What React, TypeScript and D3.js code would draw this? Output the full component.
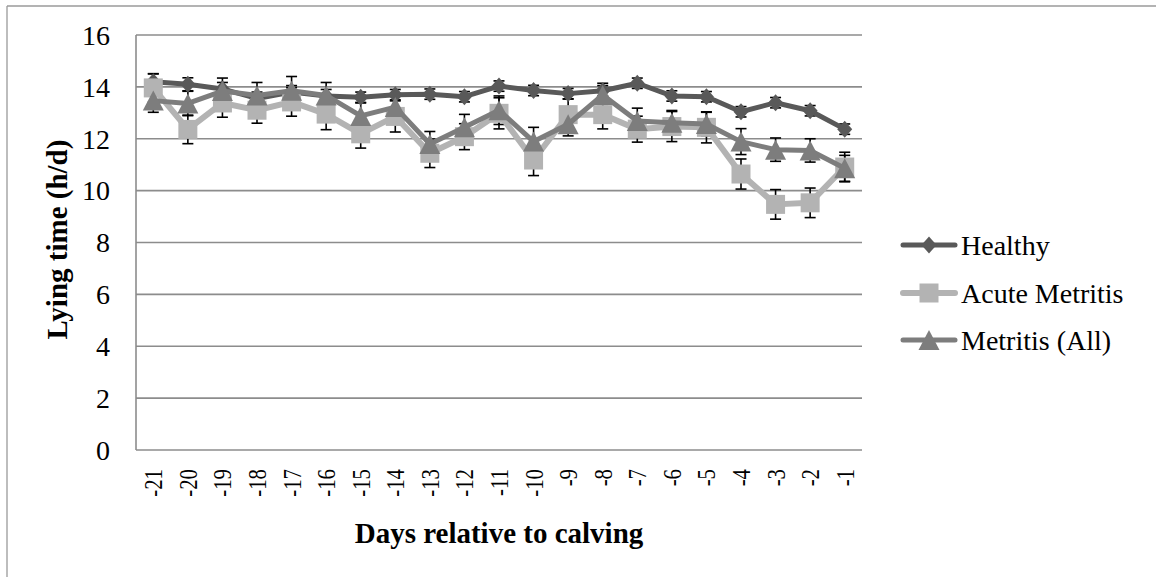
import React from "react";
import * as d3 from "d3";

const days = ["-21","-20","-19","-18","-17","-16","-15","-14","-13","-12","-11","-10","-9","-8","-7","-6","-5","-4","-3","-2","-1"];
const healthy = [14.2, 14.1, 13.92, 13.55, 13.8, 13.65, 13.6, 13.7, 13.72, 13.62, 14.03, 13.86, 13.74, 13.85, 14.14, 13.65, 13.62, 13.04, 13.39, 13.08, 12.37];
const acute = [13.96, 12.36, 13.38, 13.1, 13.42, 12.95, 12.19, 12.86, 11.44, 12.08, 12.98, 11.18, 12.93, 12.93, 12.37, 12.47, 12.44, 10.64, 9.47, 9.53, 10.91];
const metritis = [13.47, 13.36, 13.84, 13.67, 13.85, 13.67, 12.88, 13.22, 11.8, 12.44, 13.1, 11.89, 12.56, 13.69, 12.68, 12.62, 12.57, 11.89, 11.58, 11.55, 10.86];
const healthySE = [0.3, 0.25, 0.25, 0.25, 0.25, 0.25, 0.2, 0.2, 0.2, 0.2, 0.2, 0.2, 0.2, 0.2, 0.2, 0.2, 0.2, 0.2, 0.2, 0.2, 0.2];
const acuteSE = [0.55, 0.55, 0.55, 0.5, 0.55, 0.6, 0.55, 0.6, 0.55, 0.5, 0.6, 0.6, 0.6, 0.55, 0.5, 0.58, 0.6, 0.58, 0.57, 0.57, 0.57];
const metritisSE = [0.45, 0.47, 0.5, 0.5, 0.55, 0.5, 0.5, 0.5, 0.48, 0.5, 0.55, 0.55, 0.45, 0.45, 0.5, 0.47, 0.45, 0.5, 0.45, 0.45, 0.5];
const yTicks = [0, 2, 4, 6, 8, 10, 12, 14, 16];
const seriesNames = ["Healthy", "Acute Metritis", "Metritis (All)"];

const W = 1156, H = 577;
const plot = { left: 136, right: 862, top: 35, bottom: 450 };
const FONT = "Liberation Serif, Times New Roman, serif";
const GRID = "#8c8c8c";
const textStyle = { fontFamily: FONT };

const series = [
  { name: seriesNames[0], values: healthy, se: healthySE, color: "#595959", marker: "diamond", width: 5 },
  { name: seriesNames[1], values: acute, se: acuteSE, color: "#b3b3b3", marker: "square", width: 6 },
  { name: seriesNames[2], values: metritis, se: metritisSE, color: "#7d7d7d", marker: "triangle", width: 5 },
];

function markerPath(kind: string): string {
  if (kind === "diamond") return "M0,-8.5L7.5,0L0,8.5L-7.5,0Z";
  if (kind === "square") return "M-9.5,-9.5H9.5V9.5H-9.5Z";
  return "M0,-10L10.5,10L-10.5,10Z";
}

export default function App() {
  const x = d3.scalePoint<string>().domain(days).range([plot.left, plot.right]).padding(0.5);
  const y = d3.scaleLinear().domain([0, 16]).range([plot.bottom, plot.top]);
  const line = d3.line<number>().x((_, i) => x(days[i]) as number).y((d) => y(d));

  const legendY = [245, 293, 340];

  return (
    <div style={{ position: "fixed", left: 0, top: 0, width: W, height: H, background: "#fff" }}>
      <svg width={W} height={H} style={{ display: "block", fontFamily: FONT }}>
        <rect x={0} y={0} width={W} height={H} fill="#fff" />
        {/* outer chart border (only left/top visible) */}
        <line x1={7} y1={6} x2={W} y2={6} stroke="#9a9a9a" strokeWidth={1.3} />
        <line x1={7} y1={6} x2={7} y2={H} stroke="#9a9a9a" strokeWidth={1.3} />

        {/* gridlines */}
        {yTicks.filter((t) => t > 0).map((t) => (
          <line key={t} x1={plot.left} x2={plot.right} y1={y(t)} y2={y(t)} stroke={GRID} strokeWidth={1.6} />
        ))}
        {/* axes */}
        <line x1={plot.left} x2={plot.left} y1={plot.top} y2={plot.bottom} stroke={GRID} strokeWidth={1.6} />
        <line x1={plot.left} x2={plot.right} y1={plot.bottom} y2={plot.bottom} stroke={GRID} strokeWidth={1.6} />

        {/* y tick labels */}
        {yTicks.map((t) => (
          <text key={t} x={110} y={y(t)} dy="0.35em" textAnchor="end" fontSize={28} fill="#000" style={textStyle}>{t}</text>
        ))}

        {/* x tick labels */}
        {days.map((d) => (
          <text key={d} transform={`translate(${(x(d) as number) + 9},469) rotate(-90) scale(0.8,1)`} textAnchor="end" fontSize={26} fill="#000" style={textStyle}>{d}</text>
        ))}

        {/* axis titles */}
        <text x={(plot.left + plot.right) / 2} y={543} textAnchor="middle" fontSize={29} fontWeight="bold" fill="#000" style={textStyle}>Days relative to calving</text>
        <text transform={`translate(67,${(plot.top + plot.bottom) / 2 - 3}) rotate(-90)`} textAnchor="middle" fontSize={29} fontWeight="bold" fill="#000" style={textStyle}>Lying time (h/d)</text>

        {/* error bars */}
        {series.map((s) => (
          <g key={"err" + s.name} stroke="#000" strokeWidth={1.6}>
            {s.values.map((v, i) => {
              const cx = x(days[i]) as number;
              const top = y(v + s.se[i]);
              const bot = y(v - s.se[i]);
              return (
                <g key={i}>
                  <line x1={cx} x2={cx} y1={top} y2={bot} />
                  <line x1={cx - 5.5} x2={cx + 5.5} y1={top} y2={top} />
                  <line x1={cx - 5.5} x2={cx + 5.5} y1={bot} y2={bot} />
                </g>
              );
            })}
          </g>
        ))}

        {/* series */}
        {series.map((s) => (
          <g key={s.name}>
            <path d={line(s.values) || ""} fill="none" stroke={s.color} strokeWidth={s.width} strokeLinejoin="round" strokeLinecap="round" />
            {s.values.map((v, i) => (
              <path key={i} d={markerPath(s.marker)} transform={`translate(${x(days[i])},${y(v)})`} fill={s.color} />
            ))}
          </g>
        ))}

        {/* legend */}
        {series.map((s, i) => (
          <g key={"leg" + s.name} transform={`translate(0,${legendY[i]})`}>
            <line x1={903} x2={955} y1={0} y2={0} stroke={s.color} strokeWidth={s.width} strokeLinecap="round" />
            <path d={markerPath(s.marker)} transform="translate(929,0)" fill={s.color} />
            <text x={961} y={0} dy="0.35em" fontSize={28} fill="#000" style={textStyle}>{s.name}</text>
          </g>
        ))}
      </svg>
    </div>
  );
}
